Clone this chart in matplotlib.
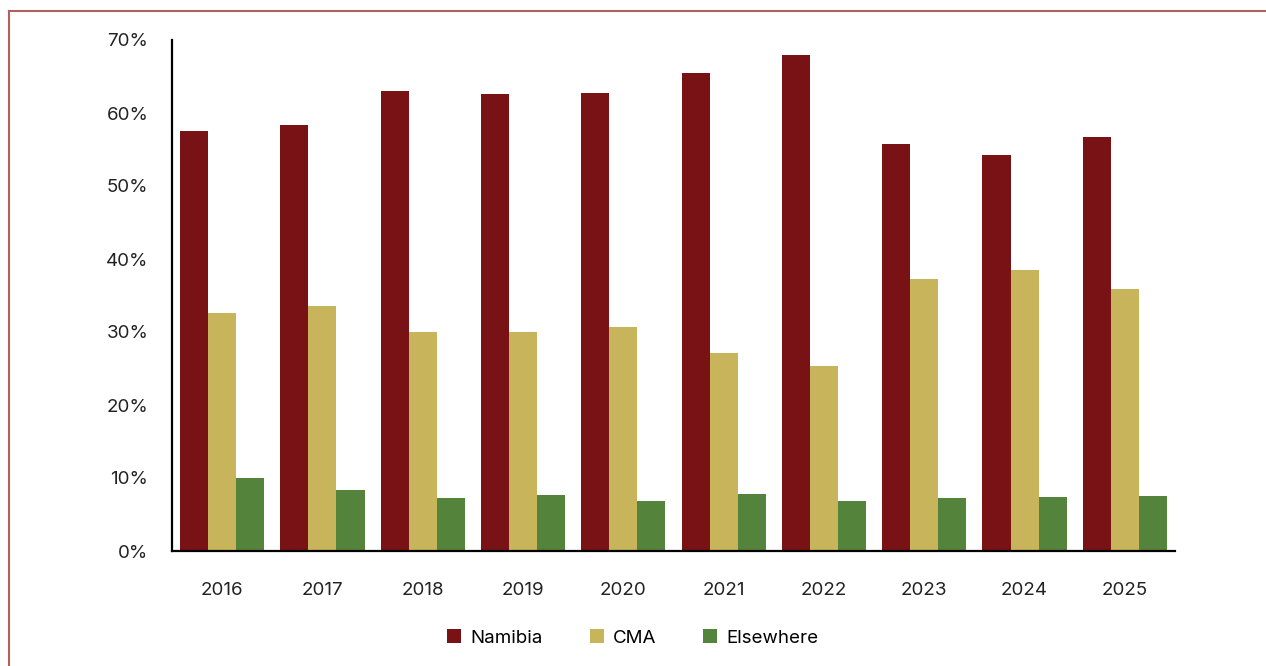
import numpy as np
import matplotlib.pyplot as plt
from matplotlib.lines import Line2D

plt.rcParams['font.family'] = ['Inter', 'DejaVu Sans']

anos = ['2016', '2017', '2018', '2019', '2020', '2021', '2022', '2023', '2024', '2025']
namibia = [57.6, 58.3, 63.0, 62.6, 62.7, 65.5, 67.9, 55.7, 54.3, 56.7]
cma = [32.6, 33.6, 30.0, 30.0, 30.7, 27.1, 25.3, 37.3, 38.5, 35.9]
elsewhere = [10.0, 8.4, 7.2, 7.7, 6.9, 7.8, 6.9, 7.2, 7.4, 7.6]

cores = ['#791214', '#c8b45a', '#54843c']

fig = plt.figure(figsize=(12.66, 6.66), dpi=100)
ax = fig.add_axes([172 / 1266, 1 - 551 / 666, 1003 / 1266, 511 / 666])

x = np.arange(len(anos))
w = 0.28
ax.bar(x - w, namibia, w, color=cores[0], label='Namibia')
ax.bar(x, cma, w, color=cores[1], label='CMA')
ax.bar(x + w, elsewhere, w, color=cores[2], label='Elsewhere')

ax.set_xlim(-0.5, len(anos) - 0.5)
ax.set_ylim(0, 70)
ax.set_yticks(range(0, 71, 10))
ax.set_yticklabels([f'{v}%' for v in range(0, 71, 10)])
ax.set_xticks(x)
ax.set_xticklabels(anos)
ax.tick_params(axis='both', length=0, labelsize=13.5, colors='#222222')
ax.tick_params(axis='x', pad=22)
ax.tick_params(axis='y', pad=17)
for s in ['top', 'right']:
    ax.spines[s].set_visible(False)
for s in ['left', 'bottom']:
    ax.spines[s].set_linewidth(1.6)
    ax.spines[s].set_color('black')

fig.legend(loc='center', bbox_to_anchor=(0.5, 1 - 638 / 666), ncol=3, frameon=False,
           fontsize=13.5, handlelength=0.75, handleheight=0.75, handletextpad=0.5,
           columnspacing=2.5)

# moldura
fig.add_artist(Line2D([9 / 1266, 9 / 1266], [0, 1 - 11 / 666], color='#b06060', lw=1.5,
                      transform=fig.transFigure))
fig.add_artist(Line2D([9 / 1266, 1], [1 - 11 / 666, 1 - 11 / 666], color='#b06060', lw=1.5,
                      transform=fig.transFigure))

fig.savefig('out.png', dpi=100)
